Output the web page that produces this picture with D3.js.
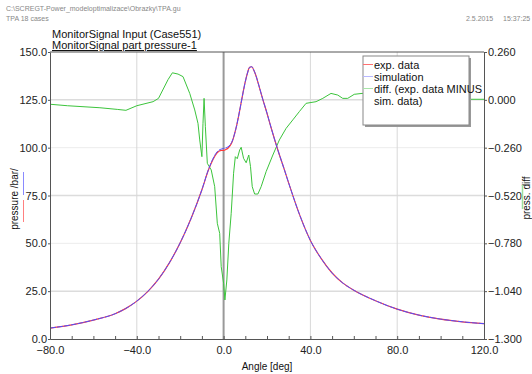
<!DOCTYPE html>
<html><head><meta charset="utf-8">
<script src="https://cdn.jsdelivr.net/npm/d3@7"></script>
<style>
body{margin:0;background:#fff;}
svg{display:block;font-family:"Liberation Sans",Arial,sans-serif;}
</style></head>
<body><svg id="c" width="532" height="374"></svg>
<script>
// ---- data ----
const angles = [-80,-70,-60,-50,-45,-40,-35,-30,-25,-20,-15,-10,-7,-5,-3,-1,0,1,2,3,4,5,6,7,8,9,10,11,12,13,14,15,16,18,20,22,25,28,30,35,40,45,50,55,60,70,80,90,100,110,120];
const simPressure = [5.7,7.4,9.9,13.2,16.0,19.8,24.8,31.3,39.8,50.3,63,78,88.5,94,97.8,99.3,99.6,99.9,100.4,101.5,103.5,107,111.5,117,123,129,134.5,139,142,142.3,140.3,137.3,133.5,125.5,118,110,98.8,88.5,81.5,65,51.5,42,34.5,29.2,25.5,20,15.6,12.5,10.4,9.0,8.0];
const expPressure = [5.7,7.4,9.9,13.2,16.0,19.8,24.8,31.3,39.8,50.3,63,78,88.3,93.6,97.3,98.6,98.6,99.0,99.7,101,103.2,107,111.5,117,123,129,134.5,139,142,142.3,140.3,137.3,133.5,125.5,118,110,98.8,88.5,81.5,65,51.5,42,34.5,29.2,25.5,20,15.6,12.5,10.4,9.0,8.0];
const diffAngles = [-80,-72,-57,-49,-45,-40,-32.5,-30,-25.6,-23.6,-21,-18.7,-15.6,-13.3,-11.8,-11,-10,-9.5,-9.0,-8.4,-7.5,-5.7,-4.1,-2.9,-1.8,-1.1,0,0.6,1.5,2.4,3.5,4.6,5.4,6.3,7.4,8.1,9.2,10.4,11.6,12.4,13.2,14.3,15.8,17.3,19.6,22.7,25.7,28.8,31.9,34.9,38,42.6,45.7,49.5,52.6,54.9,57.2,60.2,63.8,70,80,90,100,110,120];
const diffValues = [-0.024,-0.032,-0.043,-0.052,-0.057,-0.032,-0.01,0.008,0.11,0.147,0.14,0.126,0.035,-0.055,-0.128,-0.218,-0.309,-0.128,0.008,-0.146,-0.345,-0.381,-0.472,-0.671,-0.726,-0.907,-0.997,-1.088,-0.979,-0.78,-0.617,-0.399,-0.309,-0.32,-0.273,-0.258,-0.318,-0.342,-0.30,-0.363,-0.472,-0.512,-0.512,-0.472,-0.39,-0.30,-0.218,-0.155,-0.109,-0.064,-0.019,-0.01,0.008,0.035,0.026,0.008,0.008,0.03,0.035,0.03,0.02,0.01,0.005,0.003,0.003];
const xTicks = [-80,-40,0,40,80,120];
const xMinorTicks = [-70,-60,-50,-30,-20,-10,10,20,30,50,60,70,90,100,110];
const leftTicks = [0,25,50,75,100,125,150];
const rightTicks = [-1.3,-1.04,-0.78,-0.52,-0.26,0,0.26];
const legendItems = ["exp. data","simulation","diff. (exp. data MINUS"];
const seriesColors = ["#ff3a3a","#4f4fff","#3cc43c"];

// ---- layout ----
const L=50, R=484, T=52, B=339;
const svg = d3.select("#c");
const x = d3.scaleLinear().domain([-80,120]).range([L,R]);
const yL = d3.scaleLinear().domain([0,150]).range([B,T]);
const yR = d3.scaleLinear().domain([-1.3,0.26]).range([B,T]);

// header
svg.append("text").attr("x",6).attr("y",11).attr("font-size",7).attr("fill","#888").text("C:\\SCREGT-Power_modeloptimalizace\\Obrazky\\TPA.gu");
svg.append("text").attr("x",6).attr("y",21).attr("font-size",7).attr("fill","#888").text("TPA 18 cases");
svg.append("text").attr("x",466).attr("y",21).attr("font-size",7).attr("fill","#888").text("2.5.2015");
svg.append("text").attr("x",503).attr("y",21).attr("font-size",7).attr("fill","#888").text("15:37:25");
svg.append("text").attr("x",52).attr("y",38).attr("font-size",11).attr("fill","#111").text("MonitorSignal Input (Case551)");
svg.append("text").attr("x",52).attr("y",49).attr("font-size",11).attr("fill","#111").attr("text-decoration","underline").text("MonitorSignal part pressure-1");

// grid
const g = svg.append("g");
g.selectAll(".hg").data(leftTicks.filter(d=>d>0&&d<150)).join("line")
  .attr("x1",L).attr("x2",R).attr("y1",d=>yL(d)).attr("y2",d=>yL(d))
  .attr("stroke",(d,i)=>i%2===0?"#dcdcdc":"#ececec").attr("stroke-width",(d,i)=>i%2===0?1.5:1);
g.selectAll(".vg").data(xTicks.filter(d=>d>-80&&d<120&&d!==0)).join("line")
  .attr("x1",d=>x(d)).attr("x2",d=>x(d)).attr("y1",T).attr("y2",B)
  .attr("stroke","#d8d8d8").attr("stroke-width",1);
g.append("line").attr("x1",x(0)).attr("x2",x(0)).attr("y1",T).attr("y2",B).attr("stroke","#999").attr("stroke-width",2);

// series
svg.append("clipPath").attr("id","pc").append("rect").attr("x",L).attr("y",T).attr("width",R-L).attr("height",B-T);
const plot = svg.append("g").attr("clip-path","url(#pc)");
const lineL = d3.line().x(d=>x(d[0])).y(d=>yL(d[1])).curve(d3.curveMonotoneX);
const lineR = d3.line().x(d=>x(d[0])).y(d=>yR(d[1]));
plot.append("path").datum(diffAngles.map((a,i)=>[a,diffValues[i]])).attr("d",lineR).attr("fill","none").attr("stroke",seriesColors[2]).attr("stroke-width",1);
plot.append("path").datum(angles.map((a,i)=>[a,expPressure[i]])).attr("d",lineL).attr("fill","none").attr("stroke",seriesColors[0]).attr("stroke-width",1.2);
plot.append("path").datum(angles.map((a,i)=>[a,simPressure[i]])).attr("d",lineL).attr("fill","none").attr("stroke",seriesColors[1]).attr("stroke-width",1).attr("stroke-dasharray","6,1");

// axes frame
svg.append("line").attr("x1",L).attr("x2",R).attr("y1",T).attr("y2",T).attr("stroke","#555");
const fmt1 = d3.format(".1f"), fmt3 = d3.format(".3f");
svg.append("g").attr("transform",`translate(0,${B})`)
  .call(d3.axisBottom(x).tickValues(xTicks).tickFormat(fmt1).tickSize(0).tickPadding(7));
svg.append("g").attr("transform",`translate(0,${B})`)
  .call(d3.axisTop(x).tickValues(xMinorTicks.concat(xTicks)).tickFormat("").tickSize(3).tickSizeOuter(0));
svg.append("g").attr("transform",`translate(${L},0)`)
  .call(d3.axisLeft(yL).tickValues(leftTicks).tickFormat(fmt1).tickSize(2).tickPadding(1).tickSizeOuter(0));
svg.append("g").attr("transform",`translate(${R},0)`)
  .call(d3.axisRight(yR).tickValues(rightTicks).tickFormat(d=>fmt3(Math.abs(d)<1e-9?0:d)).tickSize(3).tickPadding(1).tickSizeOuter(0));
svg.selectAll(".domain").attr("stroke","#555");
svg.selectAll(".tick line").attr("stroke","#555");
svg.selectAll(".tick text").attr("font-size",11).attr("fill","#222").attr("font-family","Liberation Sans, Arial, sans-serif");

// axis titles
svg.append("text").attr("transform","translate(18,199) rotate(-90)").attr("text-anchor","middle").attr("font-size",10).attr("fill","#111").text("pressure /bar/");
svg.append("line").attr("x1",23.5).attr("x2",23.5).attr("y1",172).attr("y2",195).attr("stroke","#8a8aff");
svg.append("line").attr("x1",23.5).attr("x2",23.5).attr("y1",200).attr("y2",222).attr("stroke","#ff8080");
svg.append("text").attr("transform","translate(530,198) rotate(-90)").attr("text-anchor","middle").attr("font-size",10).attr("fill","#111").text("press. diff");
svg.append("line").attr("x1",522.5).attr("x2",522.5).attr("y1",185).attr("y2",209).attr("stroke","#9ee09e").attr("stroke-width",1.5);
svg.append("text").attr("x",267).attr("y",370).attr("text-anchor","middle").attr("font-size",10).attr("fill","#111").text("Angle [deg]");

// legend
const lg = svg.append("g");
lg.append("rect").attr("x",365).attr("y",58).attr("width",106).attr("height",69).attr("fill","#999");
lg.append("rect").attr("x",363).attr("y",56).attr("width",106).attr("height",69).attr("fill","#fff").attr("stroke","#888").attr("stroke-width",1);
const legendColors = ["#ff7070","#b8b8ff","#a8e4a8"];
legendItems.forEach((t,i)=>{
  const yy = 64.5 + i*12;
  lg.append("line").attr("x1",363).attr("x2",373).attr("y1",yy).attr("y2",yy).attr("stroke",legendColors[i]);
  lg.append("text").attr("x",374).attr("y",yy+4).attr("font-size",11).attr("fill","#111").text(t);
});
lg.append("text").attr("x",374).attr("y",64.5+36+4).attr("font-size",11).attr("fill","#111").text("sim. data)");
</script></body></html>
